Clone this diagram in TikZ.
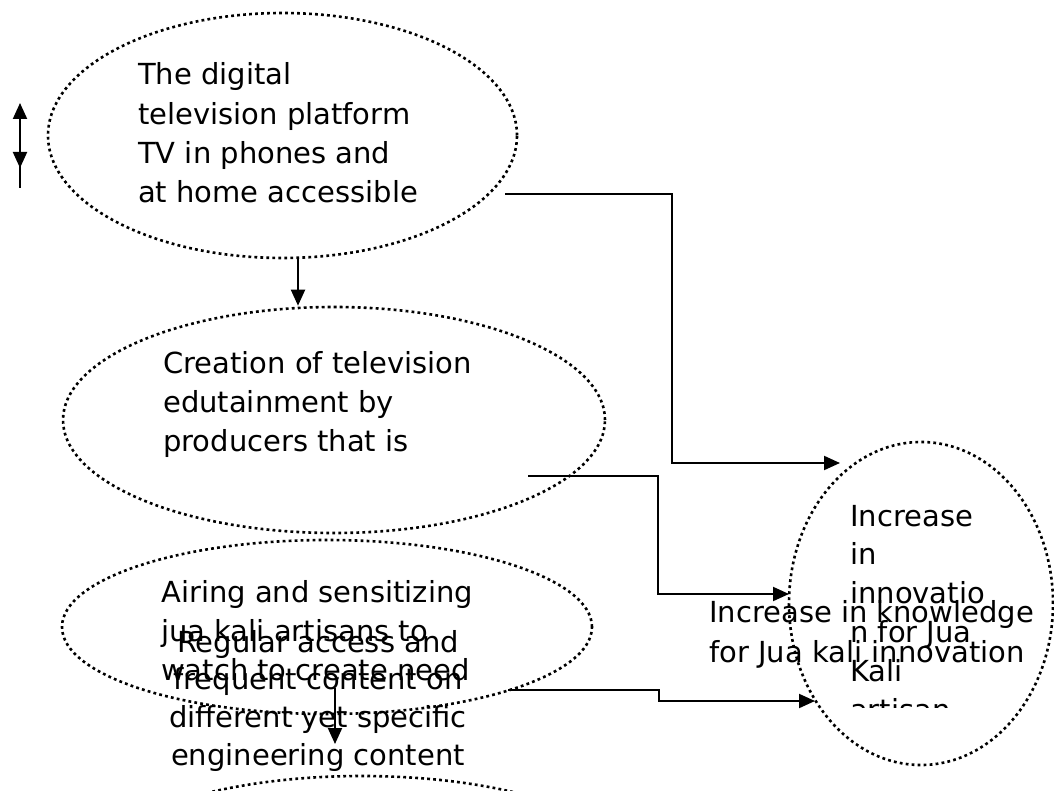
\documentclass[tikz,border=0pt]{standalone}
\usepackage{fontspec}
\setmainfont{DejaVu Sans}
\usetikzlibrary{arrows.meta,shapes.geometric}
\tikzset{
  ell/.style={draw, ellipse, inner sep=0pt, line width=2.6pt, dash pattern=on 2.8pt off 3.2pt},
  arr/.style={line width=2pt, -{Triangle[length=16pt,width=14pt]}},
  txt/.style={inner sep=0pt, font=\fontsize{29}{39}\selectfont},
}
\newcommand{\lines}[2]{\vtop{\baselineskip=#1pt \lineskiplimit=-100pt \halign{##\hfil\cr #2\crcr}}}
\newcommand{\clines}[2]{\vtop{\baselineskip=#1pt \lineskiplimit=-100pt \halign{\hfil##\hfil\cr #2\crcr}}}
\begin{document}
\begin{tikzpicture}[x=1pt,y=-1pt]
\useasboundingbox (0,0) rectangle (1054,791);
% ellipses
\node[ell, minimum width=469pt, minimum height=245pt] (n1) at (282.5,135.5) {};
\node[ell, minimum width=542pt, minimum height=226pt] (n2) at (334,420) {};
\node[ell, minimum width=530pt, minimum height=174pt] (n3) at (327,627) {};
\node[ell, minimum width=530pt, minimum height=180pt] (n4) at (362,866) {};
\node[ell, minimum width=264pt, minimum height=323pt] (n5) at (921,603.5) {};
% texts
\node[txt, anchor=base west] (t1) at (138,85) {\lines{39.3}{The digital\cr television platform\cr TV in phones and\cr at home accessible}};
\node[txt, anchor=base west] (t2) at (163,373) {\lines{39}{Creation of television\cr edutainment by\cr producers that is}};
\node[txt, anchor=base west] (t3) at (161,602) {\lines{39}{Airing and sensitizing\cr jua kali artisans to\cr watch to create need}};
\node[txt, anchor=base] (t4) at (318,652) {\clines{37.7}{Regular access and\cr frequent content on\cr different yet specific\cr engineering content}};
\begin{scope}
\clip (840,480) rectangle (1040,707);
\node[txt, anchor=base west] (t5) at (850,526) {\lines{38.8}{Increase\cr in\cr innovatio\cr n for Jua\cr Kali\cr artisan}};
\end{scope}
\node[txt, anchor=base west] (t6) at (709,622) {\lines{40}{Increase in knowledge\cr for Jua kali innovation}};
% connector end points
\coordinate (a0) at (505,194);
\coordinate (a1) at (840,463);
\coordinate (b0) at (528,476);
\coordinate (b1) at (789,594);
\coordinate (c0) at (508,690);
\coordinate (c1) at (815,701);
\coordinate (f0) at (335,688);
\coordinate (f1) at (335,744);
\coordinate (e0) at (20,188);
\coordinate (e1) at (20,103);
\coordinate (e2) at (20,130);
\coordinate (e3) at (20,168);
% connectors
\draw[arr] ([xshift=15.5pt]n1.south) -- ([xshift=15.5pt]n1.south |- n2.north);
\draw[arr] (a0) -- ++(167,0) |- (a1);
\draw[arr] (b0) -- ++(130,0) |- (b1);
\draw[arr] (c0) -- ++(151,0) |- (c1);
\draw[arr] (f0) -- (f1);
\draw[arr] (e0) -- (e1);
\draw[arr] (e2) -- (e3);
\end{tikzpicture}
\end{document}
